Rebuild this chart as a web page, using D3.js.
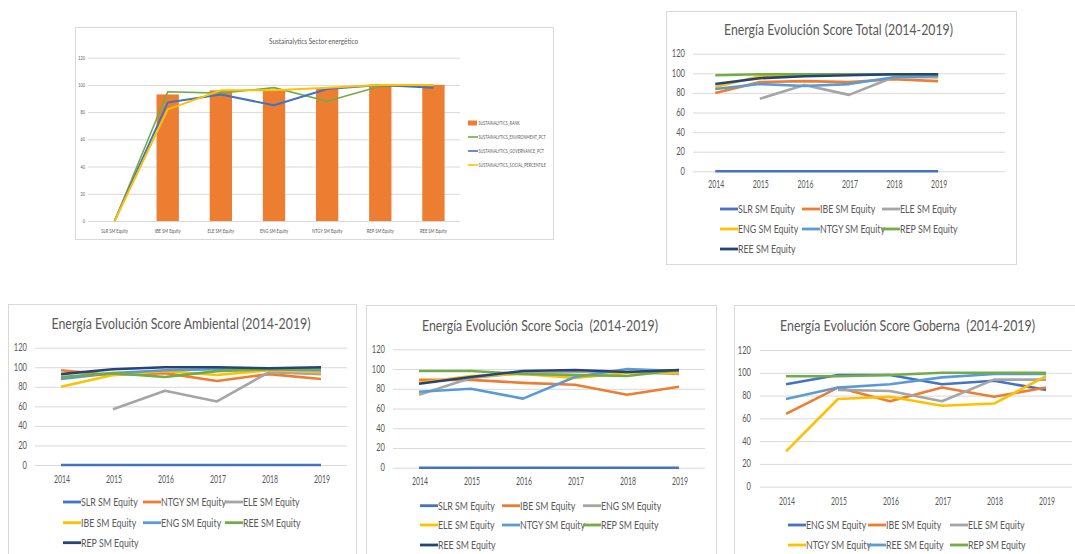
<!DOCTYPE html>
<html lang="es">
<head>
<meta charset="UTF-8">
<title>Sustainalytics Sector energético</title>
<script src="https://d3js.org/d3.v7.min.js"></script>
<style>
  body { margin: 0; background: #fff; }
  svg { display: block; font-family: Lato, "Open Sans", sans-serif; }
  .grid line { stroke: #d9d9d9; stroke-width: 1; }
  .grid .domain { display: none; }
  .title { white-space: pre; }
</style>
</head>
<body>
<svg id="chart" width="1075" height="554"></svg>
<script>
// ---- data ----
const yTicks = [0, 20, 40, 60, 80, 100, 120];
const years = ["2014", "2015", "2016", "2017", "2018", "2019"];
const yearsTotal = ["2014", "2015", "2016", "2017", "2018", "2019", ""]; // extra empty category in the Excel chart

// Sustainalytics sector chart
const sectorCats = ["SLR SM Equity", "IBE SM Equity", "ELE SM Equity", "ENG SM Equity", "NTGY SM Equity", "REP SM Equity", "REE SM Equity"];
const sectorRank = [0, 93, 96, 96, 97, 100, 100];
const sectorEnv = [0, 95, 94, 98, 88, 99, 100];
const sectorGov = [0, 87, 93, 85, 97, 100, 98];
const sectorSoc = [0, 82, 96, 96, 98, 100, 100];
const sectorLegend = ["SUSTAINALYTICS_RANK", "SUSTAINALYTICS_ENVIRONMENT_PCT", "SUSTAINALYTICS_GOVERNANCE_PCT", "SUSTAINALYTICS_SOCIAL_PERCENTILE"];

// Score Total
const totalNames = ["SLR SM Equity", "IBE SM Equity", "ELE SM Equity", "ENG SM Equity", "NTGY SM Equity", "REP SM Equity", "REE SM Equity"];
const totalSLR = [0, 0, 0, 0, 0, 0];
const totalIBE = [80, 91, 92, 91, 94, 92];
const totalELE = [null, 74, 88, 78, 96, 96];
const totalENG = [86, 97, 98, 99, 99, 96];
const totalNTGY = [84, 89, 87, 89, 96, 97];
const totalREP = [98, 99, 99, 99, 99, 99];
const totalREE = [89, 95, 97, 98, 99, 99];

// Score Ambiental
const ambNames = ["SLR SM Equity", "NTGY SM Equity", "ELE SM Equity", "IBE SM Equity", "ENG SM Equity", "REE SM Equity", "REP SM Equity"];
const ambSLR = [0, 0, 0, 0, 0, 0];
const ambNTGY = [97, 92, 94, 86, 93, 88];
const ambELE = [null, 57, 76, 65, 95, 93];
const ambIBE = [80, 92, 96, 92, 97, 95];
const ambENG = [88, 94, 97, 98, 98, 97];
const ambREE = [90, 94, 90, 96, 98, 99];
const ambREP = [93, 98, 100, 100, 99, 100];

// Score Socia
const socNames = ["SLR SM Equity", "IBE SM Equity", "ENG SM Equity", "ELE SM Equity", "NTGY SM Equity", "REP SM Equity", "REE SM Equity"];
const socSLR = [0, 0, 0, 0, 0, 0];
const socIBE = [89, 89, 86, 84, 74, 82];
const socENG = [74, 91, 96, 97, 97, 95];
const socELE = [86, 93, 95, 91, 96, 96];
const socNTGY = [77, 80, 70, 92, 100, 98];
const socREP = [98, 98, 95, 94, 93, 99];
const socREE = [85, 92, 98, 99, 97, 99];

// Score Goberna
const gobNames = ["ENG SM Equity", "IBE SM Equity", "ELE SM Equity", "NTGY SM Equity", "REE SM Equity", "REP SM Equity"];
const gobENG = [90, 98, 98, 90, 93, 85];
const gobIBE = [64, 87, 75, 87, 79, 87];
const gobELE = [null, 85, 84, 75, 94, 94];
const gobNTGY = [31, 77, 79, 71, 73, 97];
const gobREE = [77, 87, 90, 96, 99, 99];
const gobREP = [97, 97, 98, 100, 100, 100];

// Excel office palette, in series order
const palette = ["#4472C4", "#ED7D31", "#A5A5A5", "#FFC000", "#5B9BD5", "#70AD47", "#264478"];
const textColor = "#595959";

const svg = d3.select("#chart");

// text squeezed horizontally (the screenshot is compressed sideways)
function label(g, x, y, str, size, anchor, sx) {
  return g.append("text")
    .attr("transform", `translate(${x},${y}) scale(${sx},1)`)
    .attr("text-anchor", anchor)
    .style("font-size", size + "px")
    .attr("fill", textColor)
    .text(str);
}

function title(g, x, y, str, size, w) {
  return g.append("text")
    .attr("class", "title")
    .attr("transform", `translate(${x},${y}) scale(0.72,1)`)
    .attr("text-anchor", "middle")
    .attr("textLength", w / 0.72)
    .attr("lengthAdjust", "spacingAndGlyphs")
    .style("font-size", size + "px")
    .attr("fill", textColor)
    .text(str);
}

function panelBox(x0, y0, x1, y1) {
  svg.append("rect")
    .attr("x", x0 + 0.5).attr("y", y0 + 0.5)
    .attr("width", x1 - x0).attr("height", y1 - y0)
    .attr("fill", "#fff")
    .attr("stroke", "#d9d9d9");
}

// ---- line chart panels ----
function lineChart(cfg) {
  panelBox(cfg.box[0], cfg.box[1], cfg.box[2], cfg.box[3]);
  const g = svg.append("g");

  const x = d3.scaleBand().domain(cfg.cats).range(cfg.xr);
  const y = d3.scaleLinear().domain([0, 120]).range(cfg.yr);

  g.append("g").attr("class", "grid")
    .attr("transform", `translate(${cfg.xr[0]},0)`)
    .call(d3.axisLeft(y).tickValues(yTicks).tickSize(-(cfg.xr[1] - cfg.xr[0])).tickFormat(""));

  yTicks.forEach(t => label(g, cfg.yLabelX, y(t) + 3.5, t, 10.5, "end", 0.72));
  cfg.cats.forEach(c => label(g, x(c) + x.bandwidth() / 2 + 1, cfg.xLabelY, c, 10.5, "middle", 0.66));

  title(g, cfg.titleX, cfg.titleY, cfg.title, 16, cfg.titleW);

  const line = d3.line()
    .defined(d => d.v !== null)
    .x(d => x(d.c) + x.bandwidth() / 2)
    .y(d => y(d.v));

  cfg.series.forEach((s, i) => {
    const pts = s.map((v, j) => ({ c: cfg.cats[j], v: v }));
    g.append("path")
      .datum(pts)
      .attr("d", line)
      .attr("fill", "none")
      .attr("stroke", palette[i])
      .attr("stroke-width", 2.6)
      .attr("stroke-linejoin", "round");
  });

  // legend, 3 per row
  cfg.names.forEach((n, i) => {
    const lx = cfg.legCols[i % 3];
    const ly = cfg.legRows[Math.floor(i / 3)];
    if (ly === undefined) return;
    g.append("line")
      .attr("x1", lx).attr("x2", lx + 18)
      .attr("y1", ly).attr("y2", ly)
      .attr("stroke", palette[i]).attr("stroke-width", 2.8);
    label(g, lx + 18, ly + 4, n, 11, "start", 0.8);
  });
}

// ---- Sustainalytics bar + line chart ----
function sectorChart() {
  panelBox(75, 27, 553, 239);
  const g = svg.append("g");
  const x = d3.scaleBand().domain(sectorCats).range([88, 460]);
  const y = d3.scaleLinear().domain([0, 120]).range([221, 57.7]);

  g.append("g").attr("class", "grid")
    .attr("transform", "translate(88,0)")
    .call(d3.axisLeft(y).tickValues(yTicks).tickSize(-(460 - 88)).tickFormat(""));

  yTicks.forEach(t => label(g, 85, y(t) + 2, t, 5.5, "end", 0.7));
  sectorCats.forEach(c => label(g, x(c) + x.bandwidth() / 2, 233, c, 5.5, "middle", 0.75));

  title(g, 313.5, 43.5, "Sustainalytics Sector energético", 8.5, 89);

  const bw = x.bandwidth() * 0.42;
  g.selectAll(".bar")
    .data(sectorRank.map((v, i) => ({ c: sectorCats[i], v: v })))
    .enter().append("rect")
    .attr("class", "bar")
    .attr("x", d => x(d.c) + (x.bandwidth() - bw) / 2)
    .attr("y", d => y(d.v))
    .attr("width", bw)
    .attr("height", d => y(0) - y(d.v))
    .attr("fill", "#ED7D31");

  const line = d3.line()
    .x(d => x(d.c) + x.bandwidth() / 2)
    .y(d => y(d.v));

  const lines = [
    { vals: sectorEnv, color: "#70AD47", w: 1.6 },
    { vals: sectorGov, color: "#4472C4", w: 2 },
    { vals: sectorSoc, color: "#FFC000", w: 2 }
  ];
  lines.forEach(l => {
    g.append("path")
      .datum(l.vals.map((v, i) => ({ c: sectorCats[i], v: v })))
      .attr("d", line)
      .attr("fill", "none")
      .attr("stroke", l.color)
      .attr("stroke-width", l.w)
      .attr("stroke-linejoin", "round");
  });

  // legend
  const legY = [123, 137, 151, 165];
  const legColors = ["#ED7D31", "#70AD47", "#4472C4", "#FFC000"];
  sectorLegend.forEach((n, i) => {
    if (i === 0) {
      g.append("rect").attr("x", 468).attr("y", legY[i] - 2.5).attr("width", 9).attr("height", 5).attr("fill", legColors[i]);
    } else {
      g.append("line").attr("x1", 468).attr("x2", 478).attr("y1", legY[i]).attr("y2", legY[i])
        .attr("stroke", legColors[i]).attr("stroke-width", 1.6);
    }
    label(g, 478.5, legY[i] + 2, n, 5, "start", 0.75);
  });
}

sectorChart();

lineChart({
  box: [666, 11, 1016, 264], xr: [693, 1005], yr: [171.3, 53.7], cats: yearsTotal,
  yLabelX: 685, xLabelY: 188,
  title: "Energía Evolución Score Total (2014-2019)", titleX: 838.5, titleY: 35, titleW: 229,
  series: [totalSLR, totalIBE, totalELE, totalENG, totalNTGY, totalREP, totalREE], names: totalNames,
  legCols: [720, 802, 882], legRows: [209, 229, 249]
});

lineChart({
  box: [8, 304, 356, 570], xr: [35, 347], yr: [465, 347.7], cats: years,
  yLabelX: 27, xLabelY: 483,
  title: "Energía Evolución Score Ambiental (2014-2019)", titleX: 181, titleY: 329, titleW: 259,
  series: [ambSLR, ambNTGY, ambELE, ambIBE, ambENG, ambREE, ambREP], names: ambNames,
  legCols: [63, 143, 225], legRows: [502, 522.7, 542.7]
});

lineChart({
  box: [366, 305, 716, 570], xr: [393, 705], yr: [467.7, 349.3], cats: years,
  yLabelX: 385, xLabelY: 485,
  title: "Energía Evolución Score Socia  (2014-2019)", titleX: 540, titleY: 331, titleW: 236,
  series: [socSLR, socIBE, socENG, socELE, socNTGY, socREP, socREE], names: socNames,
  legCols: [420, 502, 583], legRows: [505.7, 525, 545]
});

lineChart({
  box: [734, 305, 1085, 570], xr: [760, 1072], yr: [486.7, 350], cats: years,
  yLabelX: 751, xLabelY: 505,
  title: "Energía Evolución Score Goberna  (2014-2019)", titleX: 907.5, titleY: 331, titleW: 255,
  series: [gobENG, gobIBE, gobELE, gobNTGY, gobREE, gobREP], names: gobNames,
  legCols: [788, 868, 950], legRows: [525, 545]
});
</script>
</body>
</html>
